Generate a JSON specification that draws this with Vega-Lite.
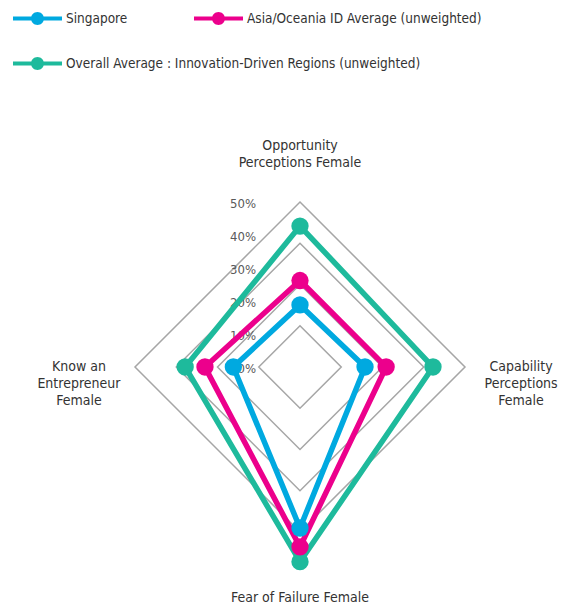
{
  "$schema": "https://vega.github.io/schema/vega-lite/v6.json",
  "width": 567,
  "height": 610,
  "padding": 0,
  "autosize": {"type": "none"},
  "background": "white",
  "config": {
    "view": {"stroke": null},
    "font": "Liberation Sans Narrow, DejaVu Sans Condensed, sans-serif"
  },
  "datasets": {
    "series": [
      {"series": "Overall Average : Innovation-Driven Regions (unweighted)", "k": 0, "measure": "Opportunity Perceptions Female", "value": 42.7},
      {"series": "Overall Average : Innovation-Driven Regions (unweighted)", "k": 1, "measure": "Capability Perceptions Female", "value": 40.3},
      {"series": "Overall Average : Innovation-Driven Regions (unweighted)", "k": 2, "measure": "Fear of Failure Female", "value": 59.0},
      {"series": "Overall Average : Innovation-Driven Regions (unweighted)", "k": 3, "measure": "Know an Entrepreneur Female", "value": 34.8},
      {"series": "Asia/Oceania ID Average (unweighted)", "k": 0, "measure": "Opportunity Perceptions Female", "value": 26.2},
      {"series": "Asia/Oceania ID Average (unweighted)", "k": 1, "measure": "Capability Perceptions Female", "value": 26.1},
      {"series": "Asia/Oceania ID Average (unweighted)", "k": 2, "measure": "Fear of Failure Female", "value": 54.5},
      {"series": "Asia/Oceania ID Average (unweighted)", "k": 3, "measure": "Know an Entrepreneur Female", "value": 28.8},
      {"series": "Singapore", "k": 0, "measure": "Opportunity Perceptions Female", "value": 18.8},
      {"series": "Singapore", "k": 1, "measure": "Capability Perceptions Female", "value": 19.7},
      {"series": "Singapore", "k": 2, "measure": "Fear of Failure Female", "value": 48.8},
      {"series": "Singapore", "k": 3, "measure": "Know an Entrepreneur Female", "value": 20.2}
    ],
    "rings": [
      {"ring": 12.5, "k": 0}, {"ring": 12.5, "k": 1}, {"ring": 12.5, "k": 2}, {"ring": 12.5, "k": 3},
      {"ring": 25, "k": 0}, {"ring": 25, "k": 1}, {"ring": 25, "k": 2}, {"ring": 25, "k": 3},
      {"ring": 37.5, "k": 0}, {"ring": 37.5, "k": 1}, {"ring": 37.5, "k": 2}, {"ring": 37.5, "k": 3},
      {"ring": 50, "k": 0}, {"ring": 50, "k": 1}, {"ring": 50, "k": 2}, {"ring": 50, "k": 3}
    ],
    "axes": [
      {"k": 0, "label": "Opportunity\nPerceptions Female"},
      {"k": 1, "label": "Capability\nPerceptions\nFemale"},
      {"k": 2, "label": "Fear of Failure Female"},
      {"k": 3, "label": "Know an\nEntrepreneur\nFemale"}
    ],
    "ticks": [
      {"v": 0, "t": "0%"}, {"v": 10, "t": "10%"}, {"v": 20, "t": "20%"},
      {"v": 30, "t": "30%"}, {"v": 40, "t": "40%"}, {"v": 50, "t": "50%"}
    ]
  },
  "resolve": {"legend": {"stroke": "independent", "fill": "independent"}},
  "layer": [
    {
      "data": {"name": "rings"},
      "transform": [
        {"calculate": "datum.ring * sin(datum.k * PI / 2)", "as": "x"},
        {"calculate": "datum.ring * cos(datum.k * PI / 2)", "as": "y"}
      ],
      "mark": {"type": "line", "interpolate": "linear-closed", "stroke": "#a6a6a6", "strokeWidth": 1.5},
      "encoding": {
        "x": {"field": "x", "type": "quantitative", "scale": {"domain": [-90.91, 80.91], "nice": false, "zero": false}, "axis": null},
        "y": {"field": "y", "type": "quantitative", "scale": {"domain": [-73.64, 111.21], "nice": false, "zero": false}, "axis": null},
        "detail": {"field": "ring"},
        "order": {"field": "k"}
      }
    },
    {
      "data": {"name": "ticks"},
      "mark": {"type": "text", "align": "right", "baseline": "middle", "dx": -44, "dy": 2, "fontSize": 13, "color": "#595959"},
      "encoding": {
        "x": {"datum": 0, "type": "quantitative", "scale": {"domain": [-90.91, 80.91], "nice": false, "zero": false}, "axis": null},
        "y": {"field": "v", "type": "quantitative", "scale": {"domain": [-73.64, 111.21], "nice": false, "zero": false}, "axis": null},
        "text": {"field": "t"}
      }
    },
    {
      "data": {"name": "series"},
      "transform": [
        {"calculate": "datum.value * sin(datum.k * PI / 2)", "as": "x"},
        {"calculate": "datum.value * cos(datum.k * PI / 2)", "as": "y"}
      ],
      "mark": {"type": "line", "interpolate": "linear-closed", "strokeWidth": 5.5},
      "encoding": {
        "x": {"field": "x", "type": "quantitative", "scale": {"domain": [-90.91, 80.91], "nice": false, "zero": false}, "axis": null},
        "y": {"field": "y", "type": "quantitative", "scale": {"domain": [-73.64, 111.21], "nice": false, "zero": false}, "axis": null},
        "order": {"field": "k"},
        "stroke": {
          "field": "series",
          "type": "nominal",
          "scale": {
            "domain": ["Singapore", "Asia/Oceania ID Average (unweighted)", "Overall Average : Innovation-Driven Regions (unweighted)"],
            "range": ["#00A9E0", "#EC008C", "#1EBA9C"]
          },
          "legend": {
            "orient": "none",
            "direction": "horizontal",
            "legendX": 13,
            "legendY": -6,
            "values": ["Singapore", "Asia/Oceania ID Average (unweighted)"],
            "columnPadding": 66,
            "title": null,
            "symbolType": "M-1,-0.08H1V0.08H-1Z M-0.265,0A0.265,0.265 0 1,1 0.265,0A0.265,0.265 0 1,1 -0.265,0Z",
            "symbolSize": 2401,
            "symbolStrokeWidth": 0,
            "labelFont": "Liberation Sans Narrow, DejaVu Sans Condensed, sans-serif",
            "labelFontSize": 13.5,
            "labelColor": "#333333",
            "labelOffset": 4,
            "labelLimit": 0,
            "encode": {
              "symbols": {
                "update": {
                  "fill": {"scale": "stroke", "field": "value"},
                  "strokeWidth": {"value": 0},
                  "opacity": {"value": 1}
                }
              }
            }
          }
        }
      }
    },
    {
      "data": {"name": "series"},
      "transform": [
        {"calculate": "datum.value * sin(datum.k * PI / 2)", "as": "x"},
        {"calculate": "datum.value * cos(datum.k * PI / 2)", "as": "y"}
      ],
      "mark": {"type": "point", "filled": true, "size": 300, "opacity": 1, "strokeWidth": 0},
      "encoding": {
        "x": {"field": "x", "type": "quantitative", "scale": {"domain": [-90.91, 80.91], "nice": false, "zero": false}, "axis": null},
        "y": {"field": "y", "type": "quantitative", "scale": {"domain": [-73.64, 111.21], "nice": false, "zero": false}, "axis": null},
        "fill": {
          "field": "series",
          "type": "nominal",
          "scale": {
            "domain": ["Singapore", "Asia/Oceania ID Average (unweighted)", "Overall Average : Innovation-Driven Regions (unweighted)"],
            "range": ["#00A9E0", "#EC008C", "#1EBA9C"]
          },
          "legend": {
            "orient": "none",
            "direction": "horizontal",
            "legendX": 13,
            "legendY": 39,
            "values": ["Overall Average : Innovation-Driven Regions (unweighted)"],
            "title": null,
            "symbolType": "M-1,-0.08H1V0.08H-1Z M-0.265,0A0.265,0.265 0 1,1 0.265,0A0.265,0.265 0 1,1 -0.265,0Z",
            "symbolSize": 2401,
            "symbolStrokeWidth": 0,
            "symbolOpacity": 1,
            "labelFont": "Liberation Sans Narrow, DejaVu Sans Condensed, sans-serif",
            "labelFontSize": 13.5,
            "labelColor": "#333333",
            "labelOffset": 4,
            "labelLimit": 0
          }
        }
      }
    },
    {
      "data": {"name": "axes"},
      "transform": [
        {"calculate": "(datum.k == 2 ? 70 : 67) * sin(datum.k * PI / 2)", "as": "x"},
        {"calculate": "(datum.k == 2 ? 70 : 67) * cos(datum.k * PI / 2)", "as": "y"}
      ],
      "mark": {"type": "text", "align": "center", "baseline": "middle", "lineBreak": "\n", "fontSize": 14, "lineHeight": 17, "color": "#333333"},
      "encoding": {
        "x": {"field": "x", "type": "quantitative", "scale": {"domain": [-90.91, 80.91], "nice": false, "zero": false}, "axis": null},
        "y": {"field": "y", "type": "quantitative", "scale": {"domain": [-73.64, 111.21], "nice": false, "zero": false}, "axis": null},
        "text": {"field": "label"}
      }
    }
  ]
}
